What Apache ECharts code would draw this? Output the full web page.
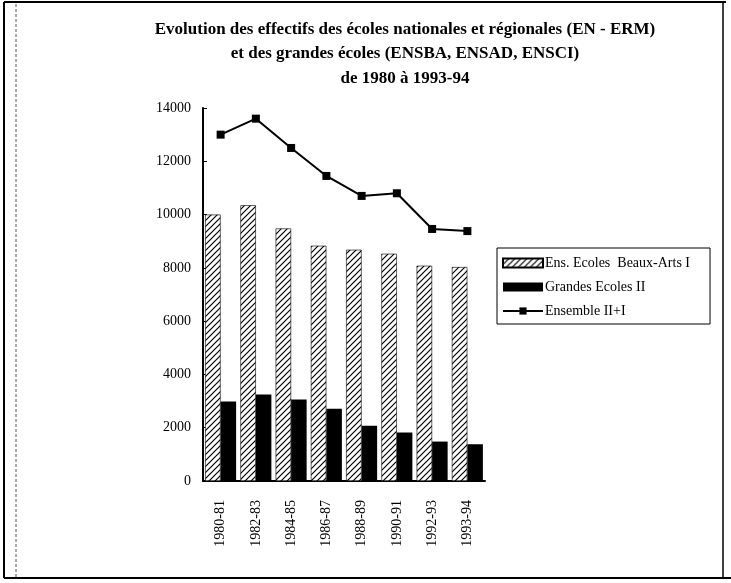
<!DOCTYPE html>
<html>
<head>
<meta charset="utf-8">
<script src="https://cdn.jsdelivr.net/npm/echarts@6/dist/echarts.min.js"></script>
<style>
  html, body { margin: 0; padding: 0; background: #fff; }
  #chart { width: 731px; height: 583px; }
</style>
</head>
<body>
<div id="chart"></div>
<script>
var YEARS = ['1980-81', '1982-83', '1984-85', '1986-87', '1988-89', '1990-91', '1992-93', '1993-94'];
var BEAUX_ARTS = [10000, 10350, 9480, 8830, 8680, 8530, 8080, 8030];
var GRANDES_ECOLES = [2980, 3250, 3060, 2710, 2070, 1820, 1480, 1380];
var ENSEMBLE = [13000, 13600, 12500, 11450, 10700, 10800, 9460, 9380];

var SERIF = '"Liberation Serif", "DejaVu Serif", serif';

// diagonal hatch, like the old printed bars
function makeHatch() {
  var c = document.createElement('canvas');
  c.width = 6;
  c.height = 6;
  var ctx = c.getContext('2d');
  ctx.fillStyle = '#fff';
  ctx.fillRect(0, 0, 6, 6);
  ctx.strokeStyle = '#000';
  ctx.lineWidth = 1.2;
  ctx.beginPath();
  ctx.moveTo(-1, 7); ctx.lineTo(7, -1);
  ctx.moveTo(-1, 1); ctx.lineTo(1, -1);
  ctx.moveTo(5, 7); ctx.lineTo(7, 5);
  ctx.stroke();
  return { image: c, repeat: 'repeat' };
}

var chart = echarts.init(document.getElementById('chart'), null, { renderer: 'canvas' });

chart.setOption({
  backgroundColor: '#fff',
  animation: false,
  title: {
    text: 'Evolution des effectifs des écoles nationales et régionales (EN - ERM)\n' +
      'et des grandes écoles (ENSBA, ENSAD, ENSCI)\nde 1980 à 1993-94',
    left: 400,
    top: 12,
    textAlign: 'center',
    textStyle: { fontFamily: SERIF, fontWeight: 'bold', fontSize: 17, lineHeight: 24.5, color: '#000' }
  },
  legend: {
    orient: 'vertical',
    left: 497,
    top: 248,
    padding: [8, 20, 6, 5],
    itemGap: 10,
    itemWidth: 40,
    itemHeight: 9,
    borderColor: '#000',
    borderWidth: 1,
    borderRadius: 0,
    textStyle: { fontFamily: SERIF, fontSize: 14, color: '#000', padding: [0, 0, 0, -3] },
    data: [
      { name: 'Ens. Ecoles  Beaux-Arts I', icon: 'rect' },
      { name: 'Grandes Ecoles II', icon: 'rect' },
      { name: 'Ensemble II+I' }
    ]
  },
  grid: { left: 203, right: 246, top: 108, bottom: 102, containLabel: false },
  xAxis: {
    type: 'category',
    data: YEARS,
    axisLine: { lineStyle: { color: '#000', width: 2 } },
    axisTick: { show: false },
    axisLabel: { rotate: 90, margin: 19, fontFamily: SERIF, fontSize: 14, color: '#000' }
  },
  yAxis: {
    type: 'value',
    min: 0,
    max: 14000,
    interval: 2000,
    splitLine: { show: false },
    axisLine: { show: true, lineStyle: { color: '#000', width: 2 } },
    axisTick: { show: true, inside: true, length: 4, lineStyle: { color: '#000' } },
    axisLabel: {
      margin: 12, fontFamily: SERIF, fontSize: 14, color: '#000',
      formatter: function (v) { return String(v); }
    }
  },
  series: [
    {
      name: 'Ens. Ecoles  Beaux-Arts I',
      type: 'bar',
      data: BEAUX_ARTS,
      barGap: '0%',
      barCategoryGap: '12%',
      itemStyle: { color: makeHatch(), borderColor: '#000', borderWidth: 0.6 }
    },
    {
      name: 'Grandes Ecoles II',
      type: 'bar',
      data: GRANDES_ECOLES,
      itemStyle: { color: '#000' }
    },
    {
      name: 'Ensemble II+I',
      type: 'line',
      data: ENSEMBLE,
      symbol: 'rect',
      symbolSize: 8,
      lineStyle: { color: '#000', width: 2 },
      itemStyle: { color: '#000' }
    }
  ],
  graphic: [
    // page frame from the scanned original
    { type: 'line', shape: { x1: 4, y1: 2, x2: 726, y2: 2 }, style: { stroke: '#000', lineWidth: 2 } },
    { type: 'line', shape: { x1: 4, y1: 2, x2: 4, y2: 578 }, style: { stroke: '#000', lineWidth: 2 } },
    { type: 'line', shape: { x1: 16, y1: 4, x2: 16, y2: 578 }, style: { stroke: '#555', lineWidth: 1, lineDash: [3, 2] } },
    { type: 'line', shape: { x1: 723, y1: 2, x2: 723, y2: 578 }, style: { stroke: '#000', lineWidth: 1.5 } },
    { type: 'line', shape: { x1: 4, y1: 578, x2: 731, y2: 578 }, style: { stroke: '#000', lineWidth: 2 } }
  ]
});
</script>
</body>
</html>
